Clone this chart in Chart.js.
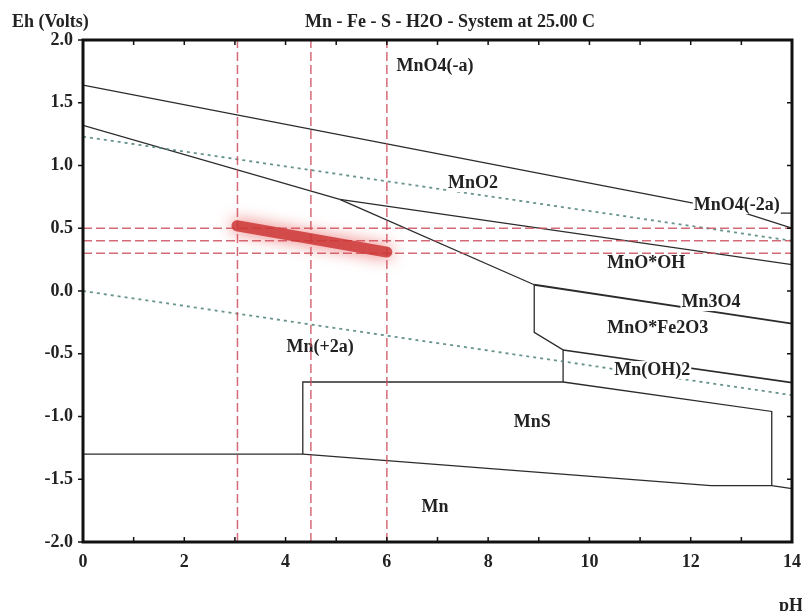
<!DOCTYPE html>
<html>
<head>
<meta charset="utf-8">
<title>Mn - Fe - S - H2O - System at 25.00 C</title>
<script src="https://cdn.jsdelivr.net/npm/chart.js@4.4.1/dist/chart.umd.min.js"></script>
<style>
	body { margin: 0; background: #fff; }
	canvas { display: block; }
</style>
</head>
<body>
<canvas id="eh-ph" width="802" height="611"></canvas>
<script>
// pH / Eh points
var phTicks = [0, 2, 4, 6, 8, 10, 12, 14];
var ehTicks = [-2.0, -1.5, -1.0, -0.5, 0.0, 0.5, 1.0, 1.5, 2.0];

var waterTop = [[0, 1.23], [14, 0.40]];
var waterBottom = [[0, 0.0], [14, -0.83]];

var mnO4Upper = [[0, 1.64], [13.07, 0.62]];
var mnO4Flat = [[13.07, 0.62], [14, 0.62]];
var mnO4Lower = [[13.07, 0.62], [14, 0.50]];
var mnO2Mn2 = [[0, 1.32], [5.07, 0.73]];
var mnO2MnOOH = [[5.07, 0.73], [14, 0.21]];
var mn2MnOOH = [[5.07, 0.73], [8.91, 0.05]];
var mn3O4Line = [[8.91, 0.05], [14, -0.26]];
var fe2O3Left = [[8.91, 0.05], [8.91, -0.33], [9.48, -0.47], [9.48, -0.725]];
var mnOH2Line = [[9.48, -0.47], [14, -0.73]];
var mnSBox = [[4.34, -1.30], [4.34, -0.725], [9.48, -0.725], [13.6, -0.96], [13.6, -1.55]];
var mnLine = [[0, -1.30], [4.34, -1.30], [12.4, -1.55], [13.6, -1.55], [14, -1.575]];

var guidePh = [3.05, 4.5, 6.0];
var guideEh = [0.5, 0.4, 0.3];
var band = [[3.04, 0.52], [6.0, 0.31]];

var regionNames = ['MnO4(-a)', 'MnO2', 'MnO4(-2a)', 'MnO*OH', 'Mn3O4', 'MnO*Fe2O3', 'Mn(OH)2', 'Mn(+2a)', 'MnS', 'Mn'];
var regionPh = [6.95, 7.70, 12.91, 11.12, 12.40, 11.35, 11.24, 4.68, 8.87, 6.95];
var regionEh = [1.79, 0.86, 0.685, 0.223, -0.088, -0.295, -0.63, -0.446, -1.05, -1.72];

var serif = "'Liberation Serif', 'Times New Roman', serif";
var labelsDone = false;

var toXY = function(pts)
{
	return pts.map(function(p){ return {x: p[0], y: p[1]}; });
}

var boundary = function(pts, width)
{
	return {
		data: toXY(pts),
		borderColor: '#2b2b2b',
		borderWidth: width || 1.3,
		pointRadius: 0,
		order: 2
	};
}

var water = function(pts)
{
	return {
		data: toXY(pts),
		borderColor: 'rgba(85,135,130,0.9)',
		borderWidth: 1.8,
		borderDash: [3, 4],
		pointRadius: 0,
		order: 2
	};
}

var guide = function(pts)
{
	return {
		data: toXY(pts),
		borderColor: 'rgba(205,80,95,0.85)',
		borderWidth: 1.5,
		borderDash: [9, 4],
		pointRadius: 0,
		overlay: true,
		order: 1
	};
}

var datasets = [
	water(waterTop),
	water(waterBottom),
	boundary(mnO4Upper),
	boundary(mnO4Flat),
	boundary(mnO4Lower),
	boundary(mnO2Mn2),
	boundary(mnO2MnOOH),
	boundary(mn2MnOOH),
	boundary(mn3O4Line, 1.9),
	boundary(fe2O3Left),
	boundary(mnOH2Line, 1.6),
	boundary(mnSBox),
	boundary(mnLine)
];

guidePh.forEach(function(ph){ datasets.push(guide([[ph, -2], [ph, 2]])); });
guideEh.forEach(function(eh){ datasets.push(guide([[0, eh], [14, eh]])); });

datasets.push({
	data: toXY(band),
	borderColor: 'rgba(205,55,55,0.85)',
	borderWidth: 11,
	borderCapStyle: 'round',
	pointRadius: 0,
	overlay: true,
	glow: true,
	order: 0
});

var drawRegionLabels = function(chart)
{
	var ctx = chart.ctx;
	var xs = chart.scales.x, ys = chart.scales.y;
	ctx.save();
	ctx.font = 'bold 18px ' + serif;
	ctx.textAlign = 'center';
	ctx.textBaseline = 'middle';
	for (var i = 0; i < regionNames.length; i++) {
		var px = xs.getPixelForValue(regionPh[i]);
		var py = ys.getPixelForValue(regionEh[i]);
		var w = ctx.measureText(regionNames[i]).width;
		ctx.fillStyle = '#fff';
		ctx.fillRect(px - w / 2 - 1, py - 9, w + 2, 18);
		ctx.fillStyle = '#222';
		ctx.fillText(regionNames[i], px, py);
	}
	ctx.restore();
}

var chartDecor = {
	id: 'chartDecor',
	beforeDatasetsDraw: function(chart)
	{
		labelsDone = false;
	},
	beforeDatasetDraw: function(chart, args)
	{
		var ds = chart.data.datasets[args.index];
		if (ds.overlay && !labelsDone) {
			drawRegionLabels(chart);
			labelsDone = true;
		}
		if (ds.glow) {
			chart.ctx.save();
			chart.ctx.shadowColor = 'rgba(230,70,70,0.9)';
			chart.ctx.shadowBlur = 16;
		}
	},
	afterDatasetDraw: function(chart, args)
	{
		if (chart.data.datasets[args.index].glow) chart.ctx.restore();
	},
	afterDraw: function(chart)
	{
		var ctx = chart.ctx;
		var a = chart.chartArea;
		var xs = chart.scales.x, ys = chart.scales.y;
		ctx.save();
		ctx.strokeStyle = '#111';
		ctx.lineWidth = 1.5;
		ctx.beginPath();
		for (var ph = 1; ph < 14; ph++) {
			var x = xs.getPixelForValue(ph);
			ctx.moveTo(x, a.top); ctx.lineTo(x, a.top + 5);
			ctx.moveTo(x, a.bottom); ctx.lineTo(x, a.bottom - 5);
		}
		ehTicks.forEach(function(eh){
			var y = ys.getPixelForValue(eh);
			ctx.moveTo(a.left - 5, y); ctx.lineTo(a.left, y);
			ctx.moveTo(a.right, y); ctx.lineTo(a.right - 5, y);
		});
		ctx.stroke();

		ctx.lineWidth = 3;
		ctx.strokeRect(a.left, a.top, a.right - a.left, a.bottom - a.top);

		ctx.fillStyle = '#222';
		ctx.font = 'bold 18px ' + serif;
		ctx.textBaseline = 'alphabetic';
		ctx.textAlign = 'left';
		ctx.fillText('Eh (Volts)', 12, 27);
		ctx.fillText('Mn - Fe - S - H2O - System at 25.00 C', 305, 27);
		ctx.fillText('pH', 779, 611);
		ctx.restore();
	}
};

new Chart(document.getElementById('eh-ph'), {
	type: 'line',
	data: { datasets: datasets },
	options: {
		responsive: false,
		animation: false,
		layout: { padding: { top: 40, right: 10, bottom: 40, left: 0 } },
		plugins: {
			legend: { display: false },
			tooltip: { enabled: false }
		},
		scales: {
			x: {
				type: 'linear',
				min: 0,
				max: 14,
				grid: { display: false, drawTicks: false },
				border: { display: false },
				afterFit: function(s){ s.height = 29; s.paddingLeft = 0; s.paddingRight = 0; },
				afterBuildTicks: function(s){ s.ticks = phTicks.map(function(v){ return {value: v}; }); },
				ticks: {
					padding: 10,
					color: '#222',
					font: { family: serif, size: 18, weight: 'bold' }
				}
			},
			y: {
				type: 'linear',
				min: -2,
				max: 2,
				grid: { display: false, drawTicks: false },
				border: { display: false },
				afterFit: function(s){ s.width = 83; s.paddingTop = 0; s.paddingBottom = 0; },
				afterBuildTicks: function(s){ s.ticks = ehTicks.map(function(v){ return {value: v}; }); },
				ticks: {
					padding: 10,
					color: '#222',
					font: { family: serif, size: 18, weight: 'bold' },
					callback: function(v){ return v.toFixed(1); }
				}
			}
		}
	},
	plugins: [chartDecor]
});
</script>
</body>
</html>
